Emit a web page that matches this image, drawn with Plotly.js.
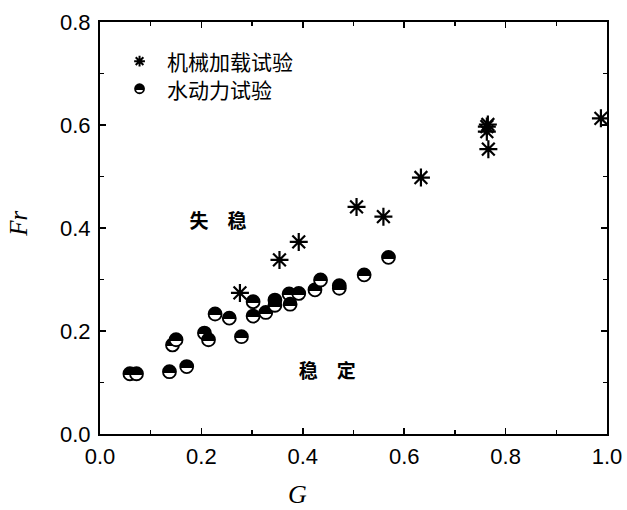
<!DOCTYPE html>
<html>
<head>
<meta charset="utf-8">
<script src="https://cdn.plot.ly/plotly-3.0.1.min.js"></script>
<style>html,body{margin:0;padding:0;background:#fff;}#chart{width:627px;height:510px;}</style>
</head>
<body>
<div id="chart"></div>
<script>
// 机械加载试验 (asterisks)
const mechG  = [0.276, 0.354, 0.392, 0.506, 0.559, 0.633, 0.763, 0.765, 0.763, 0.766, 0.988];
const mechFr = [0.274, 0.338, 0.373, 0.441, 0.422, 0.498, 0.597, 0.601, 0.587, 0.553, 0.613];
// 水动力试验 (half-filled circles)
const hydroG  = [0.059, 0.072, 0.137, 0.171, 0.143, 0.150, 0.206, 0.214, 0.227, 0.255, 0.279,
                 0.302, 0.302, 0.327, 0.345, 0.345, 0.373, 0.375, 0.392, 0.424, 0.435, 0.472, 0.472, 0.521, 0.569];
const hydroFr = [0.117, 0.117, 0.121, 0.131, 0.173, 0.183, 0.196, 0.183, 0.233, 0.225, 0.189,
                 0.257, 0.229, 0.236, 0.260, 0.250, 0.272, 0.252, 0.273, 0.280, 0.299, 0.288, 0.283, 0.309, 0.343];
const seriesNames = ['机械加载试验', '水动力试验'];
const xTicks = [0.0, 0.2, 0.4, 0.6, 0.8, 1.0];
const yTicks = [0.0, 0.2, 0.4, 0.6, 0.8];
const regionLabels = ['失　稳', '稳　定'];
const regionG = [0.233, 0.448];
const regionFr = [0.41, 0.118];

const cjk = '"Noto Sans CJK SC", sans-serif';
const halfMarker = (size) => ({
  symbol: 'circle', size: size, color: '#000',
  gradient: {type: 'vertical', color: '#fff'},
  line: {color: '#000', width: 1.8}
});

const traces = [
  {
    x: mechG, y: mechFr, mode: 'markers', type: 'scatter', name: seriesNames[0],
    marker: {symbol: 'asterisk-open', size: 15, color: '#000', line: {color: '#000', width: 2.2}},
    cliponaxis: true, hoverinfo: 'x+y'
  },
  {
    x: hydroG, y: hydroFr, mode: 'markers', type: 'scatter', name: seriesNames[1],
    marker: halfMarker(13), hoverinfo: 'x+y'
  },
  {
    x: regionG, y: regionFr, mode: 'text', type: 'scatter', text: regionLabels,
    textposition: 'middle center',
    textfont: {family: cjk, size: 19, color: '#000', weight: 'bold'},
    hoverinfo: 'skip'
  },
  // legend symbols on a hidden overlay axis
  {
    x: [0.078], y: [0.905], xaxis: 'x2', yaxis: 'y2', mode: 'markers', type: 'scatter',
    marker: {symbol: 'asterisk-open', size: 9, color: '#000', line: {color: '#000', width: 2}},
    hoverinfo: 'skip'
  },
  {
    x: [0.078], y: [0.838], xaxis: 'x2', yaxis: 'y2', mode: 'markers', type: 'scatter',
    marker: halfMarker(9), hoverinfo: 'skip'
  }
];

const axisCommon = {
  showline: true, linecolor: '#000', linewidth: 2, mirror: 'allticks',
  ticks: 'inside', ticklen: 6, tickwidth: 1.5, tickcolor: '#000',
  showgrid: false, zeroline: false,
  tickfont: {family: '"Liberation Sans", Arial, sans-serif', size: 22, color: '#000'},
  minor: {ticks: 'inside', ticklen: 4, tickwidth: 1.5, tickcolor: '#000', dtick: 0.1, showgrid: false}
};

const layout = {
  width: 627, height: 510,
  margin: {l: 100, r: 20, t: 22, b: 76},
  paper_bgcolor: '#fff', plot_bgcolor: '#fff',
  showlegend: false,
  xaxis: Object.assign({}, axisCommon, {
    range: [0, 1.0], tickmode: 'array', tickvals: xTicks,
    ticktext: xTicks.map(v => v.toFixed(1)), ticklabelstandoff: 2
  }),
  yaxis: Object.assign({}, axisCommon, {
    range: [0, 0.8], tickmode: 'array', tickvals: yTicks,
    ticktext: yTicks.map(v => v.toFixed(1)), ticklabelstandoff: 3
  }),
  xaxis2: {overlaying: 'x', range: [0, 1], visible: false, fixedrange: true},
  yaxis2: {overlaying: 'y', range: [0, 1], visible: false, fixedrange: true},
  annotations: [
    {xref: 'x2', yref: 'y2', x: 0.128, y: 0.905, xanchor: 'left', yanchor: 'middle',
     text: seriesNames[0], showarrow: false, font: {family: cjk, size: 21, color: '#000'}},
    {xref: 'x2', yref: 'y2', x: 0.128, y: 0.838, xanchor: 'left', yanchor: 'middle',
     text: seriesNames[1], showarrow: false, font: {family: cjk, size: 21, color: '#000'}},
    {xref: 'paper', yref: 'paper', x: -0.16, y: 0.51, xanchor: 'center', yanchor: 'middle',
     text: 'Fr', textangle: -90, showarrow: false,
     font: {family: '"Liberation Serif", serif', size: 25, color: '#000', style: 'italic'}},
    {xref: 'paper', yref: 'paper', x: 0.39, y: -0.148, xanchor: 'center', yanchor: 'middle',
     text: 'G', showarrow: false,
     font: {family: '"Liberation Serif", serif', size: 26, color: '#000', style: 'italic'}}
  ]
};

// make the marker gradient a sharp split: dark top (about 60%), light bottom
function sharpenGradients() {
  document.querySelectorAll('#chart linearGradient').forEach(g => {
    const stops = g.querySelectorAll('stop');
    if (stops.length < 2) return;
    stops.forEach(s => s.setAttribute('offset', '40%'));
  });
}

Plotly.newPlot('chart', traces, layout, {displayModeBar: false, staticPlot: true})
  .then(sharpenGradients);
</script>
</body>
</html>
